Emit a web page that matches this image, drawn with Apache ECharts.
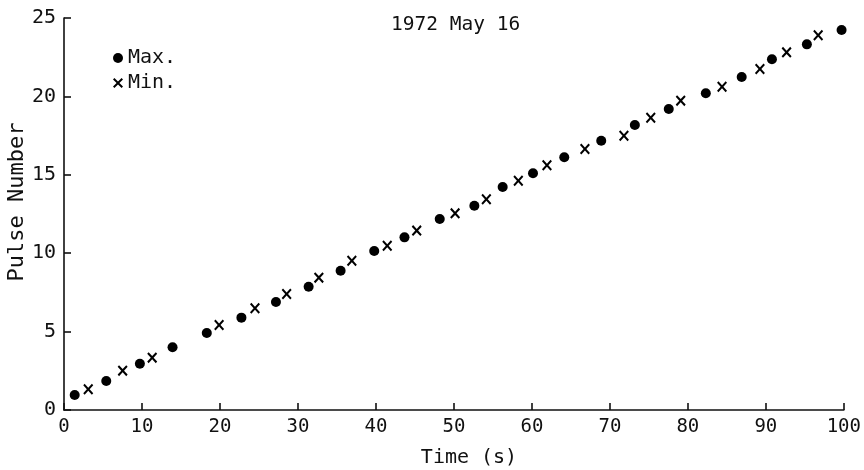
<!DOCTYPE html>
<html>
<head>
<meta charset="utf-8">
<script src="https://cdn.jsdelivr.net/npm/echarts@6/dist/echarts.min.js"></script>
<style>
  html, body { margin: 0; padding: 0; background: #fff; }
  #chart { width: 864px; height: 470px; }
</style>
</head>
<body>
<div id="chart"></div>
<script>
// Pulse timing, 1972 May 16: time of each maximum / minimum vs pulse number
const maxTime = [1.37, 5.42, 9.73, 13.92, 18.31, 22.75, 27.18, 31.37, 35.47, 39.78, 43.66, 48.18,
                 52.62, 56.25, 60.14, 64.15, 68.89, 73.20, 77.55, 82.30, 86.90, 90.78, 95.26, 99.71];
const maxPulse = [0.96, 1.85, 2.95, 4.00, 4.91, 5.89, 6.89, 7.86, 8.88, 10.14, 11.01, 12.18,
                  13.03, 14.22, 15.10, 16.12, 17.17, 18.18, 19.20, 20.20, 21.24, 22.37, 23.32, 24.23];
const minTime = [3.11, 7.52, 11.31, 19.89, 24.49, 28.55, 32.68, 36.91, 41.45, 45.23, 50.15,
                 54.16, 58.26, 61.93, 66.80, 71.80, 75.24, 79.08, 84.38, 89.24, 92.66, 96.71];
const minPulse = [1.32, 2.51, 3.34, 5.42, 6.49, 7.40, 8.44, 9.52, 10.48, 11.44, 12.54,
                  13.44, 14.62, 15.61, 16.65, 17.49, 18.64, 19.73, 20.62, 21.75, 22.81, 23.90];

const seriesNames = ['Max.', 'Min.'];
const chartTitle = '1972 May 16';
const xName = 'Time (s)';
const yName = 'Pulse Number';

const FONT = '"DejaVu Sans Mono", monospace';
// filled "x" glyph used for the minima
const CROSS = 'path://M0,1.4L1.4,0L5,3.6L8.6,0L10,1.4L6.4,5L10,8.6L8.6,10L5,6.4L1.4,10L0,8.6L3.6,5Z';

const zip = (a, b) => a.map((v, i) => [v, b[i]]);

const chart = echarts.init(document.getElementById('chart'), null, { renderer: 'canvas' });
chart.setOption({
  animation: false,
  backgroundColor: '#ffffff',
  grid: { left: 64, right: 18, top: 18, bottom: 60, containLabel: false },
  title: {
    text: chartTitle,
    left: 386, top: 10,
    textStyle: { fontFamily: FONT, fontSize: 19.5, fontWeight: 'normal', color: '#111' }
  },
  legend: {
    orient: 'vertical',
    left: 108, top: 43,
    itemWidth: 10, itemHeight: 10, itemGap: 5,
    textStyle: { fontFamily: FONT, fontSize: 20, color: '#111', padding: [3, 0, 0, 0] },
    data: [
      { name: seriesNames[0], icon: 'circle' },
      { name: seriesNames[1], icon: CROSS }
    ]
  },
  xAxis: {
    type: 'value', min: 0, max: 100, interval: 10,
    axisLine: { lineStyle: { color: '#111', width: 1.6 } },
    axisTick: { inside: true, length: 7, lineStyle: { color: '#111', width: 1.6 } },
    axisLabel: { fontFamily: FONT, fontSize: 19, color: '#111', margin: 8 },
    splitLine: { show: false }
  },
  yAxis: {
    type: 'value', min: 0, max: 25, interval: 5,
    axisLine: { show: true, lineStyle: { color: '#111', width: 1.6 } },
    axisTick: { show: true, inside: true, length: 7, lineStyle: { color: '#111', width: 1.6 } },
    axisLabel: { fontFamily: FONT, fontSize: 20, color: '#111', margin: 8 },
    splitLine: { show: false }
  },
  graphic: [
    {
      type: 'text', x: 17, y: 202, rotation: Math.PI / 2,
      style: { text: yName, font: '22px ' + FONT, fill: '#111', align: 'center', verticalAlign: 'middle' }
    },
    {
      type: 'text', x: 469, y: 458,
      style: { text: xName, font: '20px ' + FONT, fill: '#111', align: 'center', verticalAlign: 'middle' }
    }
  ],
  series: [
    {
      name: seriesNames[0], type: 'scatter',
      symbol: 'circle', symbolSize: 10,
      itemStyle: { color: '#000', opacity: 1 },
      data: zip(maxTime, maxPulse)
    },
    {
      name: seriesNames[1], type: 'scatter',
      symbol: CROSS, symbolSize: [10, 11],
      itemStyle: { color: '#000', opacity: 1 },
      data: zip(minTime, minPulse)
    }
  ]
});
</script>
</body>
</html>
